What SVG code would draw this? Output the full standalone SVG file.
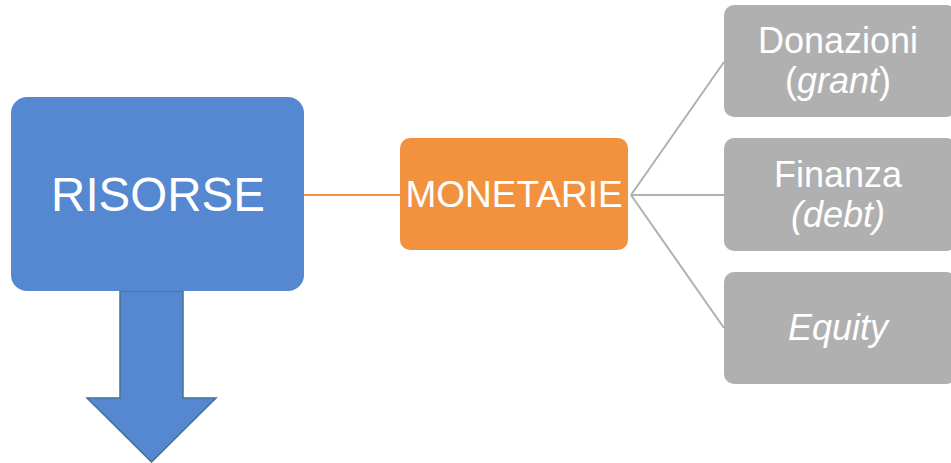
<svg xmlns="http://www.w3.org/2000/svg" width="951" height="463" viewBox="0 0 951 463">
<style>
text{font-family:"Liberation Sans",Arial,sans-serif;fill:#fff;text-anchor:middle}
.gray{fill:#B0B0B0}
.gl{stroke:#B0B0B0;stroke-width:2;fill:none}
.sub{font-size:36px}
</style>
<rect width="951" height="463" fill="#fff"/>
<g id="connectors">
<line x1="304" y1="195" x2="400" y2="195" stroke="#F2923F" stroke-width="2"/>
<line class="gl" x1="631" y1="195" x2="724" y2="62"/>
<line class="gl" x1="631" y1="195" x2="724" y2="195"/>
<line class="gl" x1="631" y1="195" x2="724" y2="328"/>
</g>
<g id="arrow">
<path d="M120,291 L183,291 L183,398 L216,398 L151.5,462 L87,398 L120,398 Z" fill="#5588D0" stroke="#41719C" stroke-width="1.5"/>
</g>
<g id="risorse">
<rect x="11" y="97" width="293" height="194" rx="16" fill="#5588D0"/>
<text x="158" y="211" font-size="47.5">RISORSE</text>
</g>
<g id="monetarie">
<rect x="400" y="138" width="228" height="112" rx="10" fill="#F2923F"/>
<text x="514" y="207" font-size="37">MONETARIE</text>
</g>
<g id="donazioni">
<rect class="gray" x="724" y="5" width="232" height="112" rx="10"/>
<text class="sub" x="838" y="53">Donazioni</text>
<text class="sub" x="838" y="93">(<tspan font-style="italic">grant</tspan>)</text>
</g>
<g id="finanza">
<rect class="gray" x="724" y="138" width="232" height="113" rx="10"/>
<text class="sub" x="838" y="187">Finanza</text>
<text class="sub" x="838" y="227" font-style="italic">(debt)</text>
</g>
<g id="equity">
<rect class="gray" x="724" y="272" width="232" height="112" rx="10"/>
<text class="sub" x="838" y="340" font-style="italic">Equity</text>
</g>
</svg>
